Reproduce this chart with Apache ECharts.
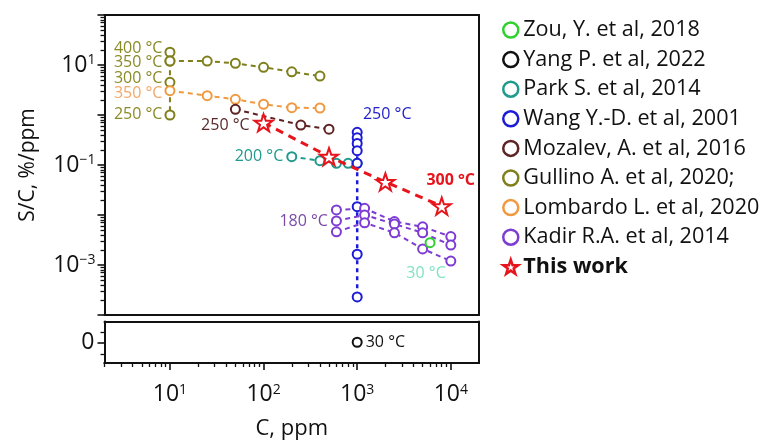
<!DOCTYPE html>
<html>
<head>
<meta charset="utf-8">
<script src="https://cdn.jsdelivr.net/npm/echarts@6/dist/echarts.min.js"></script>
<style>
html, body { margin: 0; padding: 0; background: #fff; }
#chart { width: 765px; height: 441px; }
</style>
</head>
<body>
<div id="chart"></div>
<script>
// C in ppm, S/C in %/ppm
const gullinoVertC = [10, 10, 10, 10]
const gullinoVertS = [18, 12, 4.5, 1.0]
const gullinoC = [10, 25, 50, 100, 200, 400]
const gullinoS = [12, 12, 10.8, 9.0, 7.3, 6.0]
const lombardoC = [10, 25, 50, 100, 200, 400]
const lombardoS = [3.06, 2.43, 2.06, 1.64, 1.40, 1.38]
const mozalevC = [50, 250, 500]
const mozalevS = [1.3, 0.63, 0.52]
const parkC = [200, 400, 600, 800, 1000]
const parkS = [0.147, 0.122, 0.108, 0.108, 0.108]
const wangC = [1000, 1000, 1000, 1000, 1000, 1000, 1000, 1000]
const wangS = [0.45, 0.35, 0.27, 0.193, 0.108, 0.0147, 0.00164, 0.00023]
const kadirC = [600, 1200, 2500, 5000, 10000]
const kadirS1 = [0.0126, 0.0136, 0.0074, 0.0058, 0.0037]
const kadirS2 = [0.0076, 0.0100, 0.0066, 0.0044, 0.0025]
const kadirS3 = [0.0046, 0.0070, 0.0044, 0.0021, 0.0012]
const zouC = [6000]
const zouS = [0.0028]
const yangC = [1000]
const yangS = [0]
const thisWorkC = [100, 500, 2000, 8000]
const thisWorkS = [0.70, 0.147, 0.046, 0.015]

// tick labels (decade exponents)
const xTickExp = [1, 2, 3, 4]
const yTickExp = [1, -1, -3]
const xRange = [2, 20000]
const yRange = [1e-4, 100]

const FONT = 'Open Sans'
const COLORS = {
	zou: '#2fd12f',
	yang: '#111111',
	park: '#1f9a8c',
	wang: '#1b1bd8',
	mozalev: '#5e2424',
	gullino: '#7f7f1c',
	lombardo: '#f09a40',
	kadir: '#7d3cd2',
	thisWork: '#e8141c',
}
const STAR = 'path://M50,0 L61.8,35.1 L98.1,35.1 L68.8,56.7 L79.4,91 L50,70 L20.6,91 L31.2,56.7 L1.9,35.1 L38.2,35.1 Z'

// minor ticks at 2..9 of each decade
function minorLog(from, to) {
	const out = []
	for (let n = from; n < to; n++) {
		for (let k = 2; k <= 9; k++) out.push(n + Math.log10(k))
	}
	return out
}
const lg = Math.log10

function makeData(xs, ys, labels, linearY) {
	return xs.map((x, i) => {
		const item = { value: [lg(x), linearY ? ys[i] : lg(ys[i])] }
		if (labels && labels[i]) {
			item.label = Object.assign({ show: true, fontFamily: FONT, fontSize: 16 }, labels[i])
		}
		return item
	})
}

function lineSeries(name, color, xs, ys, opt) {
	opt = opt || {}
	return {
		type: 'line',
		name,
		xAxisIndex: opt.xi || 0,
		yAxisIndex: opt.yi || 0,
		data: makeData(xs, ys, opt.labels, opt.yi === 1),
		symbol: opt.symbol || 'circle',
		symbolSize: opt.size || 9,
		symbolKeepAspect: true,
		itemStyle: { color: '#fff', borderColor: color, borderWidth: opt.bw || 2 },
		lineStyle: { color, width: opt.lw || 2, type: opt.dash || [5, 4] },
		label: { show: false },
		emphasis: { disabled: true },
		z: opt.z || 2,
	}
}

const supFmt = (e) => '{b|10}{s|' + (e < 0 ? '\u2212' + -e : e) + '}'
const labelRich = {
	b: { fontFamily: FONT, fontSize: 23, color: '#111', verticalAlign: 'bottom' },
	s: { fontFamily: FONT, fontSize: 14, color: '#111', verticalAlign: 'top' },
}

const series = [
	lineSeries('Gullino A. et al, 2020;', COLORS.gullino, gullinoVertC, gullinoVertS, {
		labels: [
			{ formatter: '400 °C', position: 'left', distance: 2, offset: [0, -4], color: '#8a8a28' },
			{ formatter: '350 °C', position: 'left', distance: 2, offset: [0, 1], color: '#8a8a28' },
			{ formatter: '300 °C', position: 'left', distance: 2, offset: [0, -4], color: '#8a8a28' },
			{ formatter: '250 °C', position: 'left', distance: 2, offset: [0, -1], color: '#8a8a28' },
		],
	}),
	lineSeries('Gullino A. et al, 2020;', COLORS.gullino, gullinoC, gullinoS),
	lineSeries('Lombardo L. et al, 2020', COLORS.lombardo, lombardoC, lombardoS, {
		labels: [{ formatter: '350 °C', position: 'left', distance: 2, offset: [0, 3], color: '#f2a86a' }],
	}),
	lineSeries('Mozalev, A. et al, 2016', COLORS.mozalev, mozalevC, mozalevS, {
		labels: [{ formatter: '250 °C', position: 'bottom', offset: [-10, -2], color: '#5a2a2a' }],
	}),
	lineSeries('Park S. et al, 2014', COLORS.park, parkC, parkS, {
		labels: [{ formatter: '200 °C', position: 'left', distance: 3, color: '#1f9a8c' }],
	}),
	lineSeries('Wang Y.-D. et al, 2001', COLORS.wang, wangC, wangS, {
		dash: [4, 4],
		lw: 2.5,
		labels: [{ formatter: '250 °C', position: 'top', offset: [30, 1], color: '#2222cc' }],
	}),
	lineSeries('Kadir R.A. et al, 2014', COLORS.kadir, kadirC, kadirS1),
	lineSeries('Kadir R.A. et al, 2014', COLORS.kadir, kadirC, kadirS2, {
		labels: [{ formatter: '180 °C', position: 'left', distance: 3, color: '#7a4aa8' }],
	}),
	lineSeries('Kadir R.A. et al, 2014', COLORS.kadir, kadirC, kadirS3),
	lineSeries('Zou, Y. et al, 2018', COLORS.zou, zouC, zouS, {
		labels: [{ formatter: '30 °C', position: 'bottom', offset: [-4, 12], color: '#7fe3c3' }],
	}),
	lineSeries('Yang P. et al, 2022', COLORS.yang, yangC, yangS, {
		xi: 1,
		yi: 1,
		labels: [{ formatter: '30 °C', position: 'right', distance: 3, color: '#111' }],
	}),
	lineSeries('This work', COLORS.thisWork, thisWorkC, thisWorkS, {
		symbol: STAR,
		size: 18,
		lw: 3,
		dash: [8, 6],
		z: 5,
		labels: [null, null, null, { formatter: '300 °C', position: 'top', offset: [9, -3], color: '#e8141c', fontWeight: 'bold' }],
	}),
]

const legendNames = [
	['Zou, Y. et al, 2018', COLORS.zou],
	['Yang P. et al, 2022', COLORS.yang],
	['Park S. et al, 2014', COLORS.park],
	['Wang Y.-D. et al, 2001', COLORS.wang],
	['Mozalev, A. et al, 2016', COLORS.mozalev],
	['Gullino A. et al, 2020;', COLORS.gullino],
	['Lombardo L. et al, 2020', COLORS.lombardo],
	['Kadir R.A. et al, 2014', COLORS.kadir],
	['This work', COLORS.thisWork],
]

// frame sides are drawn by axis lines
function frameAxis(gridIndex, position, min, max, extra) {
	return Object.assign({
		type: 'value',
		gridIndex,
		position,
		min,
		max,
		axisLine: { show: true, onZero: false, lineStyle: { color: '#111', width: 2 } },
		axisTick: { show: false },
		axisLabel: { show: false },
		splitLine: { show: false },
	}, extra || {})
}
const majorTick = (values) => ({ show: true, inside: false, length: 7, customValues: values, lineStyle: { color: '#111', width: 1.6 } })
const minorTick = (values) => ({ show: true, inside: false, length: 4, customValues: values, lineStyle: { color: '#111', width: 1.3 } })

// left-side ticks: split lines of a thin strip grid next to the frame
function tickStripY(gridIndex, min, max, values, width) {
	return {
		type: 'value',
		gridIndex,
		position: 'left',
		min,
		max,
		interval: 1,
		axisLine: { show: false, onZero: false },
		axisTick: { show: false, customValues: values },
		axisLabel: { show: false },
		splitLine: { show: true, lineStyle: { color: '#111', width } },
	}
}
const hiddenX = (gridIndex) => ({ type: 'value', gridIndex, min: 0, max: 1, show: false })

const X0 = lg(xRange[0])
const X1 = lg(xRange[1])
const Y0 = lg(yRange[0])
const Y1 = lg(yRange[1])
const LEFT = 104.5

const option = {
	animation: false,
	backgroundColor: '#fff',
	grid: [
		{ left: LEFT, top: 15, width: 374.5, height: 300, show: false },
		{ left: LEFT, top: 321.5, width: 374.5, height: 43, show: false },
		{ left: LEFT - 7, top: 15, width: 7, height: 300, show: false },
		{ left: LEFT - 4, top: 15, width: 4, height: 300, show: false },
		{ left: LEFT - 7, top: 321.5, width: 7, height: 43, show: false },
		{ left: LEFT - 4, top: 321.5, width: 4, height: 43, show: false },
	],
	xAxis: [
		frameAxis(0, 'bottom', X0, X1),
		frameAxis(1, 'bottom', X0, X1, {
			axisTick: majorTick(xTickExp),
			axisLabel: { customValues: xTickExp, margin: 20, formatter: supFmt, rich: labelRich },
			name: 'C, ppm',
			nameLocation: 'middle',
			nameGap: 55,
			nameTextStyle: { fontFamily: FONT, fontSize: 22, color: '#111' },
		}),
		frameAxis(1, 'bottom', X0, X1, { axisTick: minorTick(minorLog(0, 4)) }),
		frameAxis(0, 'top', X0, X1),
		frameAxis(1, 'top', X0, X1),
		hiddenX(2),
		hiddenX(3),
		hiddenX(4),
		hiddenX(5),
	],
	yAxis: [
		frameAxis(0, 'left', Y0, Y1, {
			axisLabel: { customValues: yTickExp, margin: 9, formatter: supFmt, rich: labelRich },
			name: 'S/C, %/ppm',
			nameLocation: 'middle',
			nameGap: 66,
			nameTextStyle: { fontFamily: FONT, fontSize: 21, color: '#111' },
		}),
		frameAxis(1, 'left', -1, 1, {
			axisLabel: { customValues: [0], margin: 10, fontFamily: FONT, fontSize: 23, color: '#111' },
		}),
		frameAxis(0, 'right', Y0, Y1),
		frameAxis(1, 'right', -1, 1),
		tickStripY(2, Y0, Y1, [-4, -3, -2, -1, 0, 1, 2], 1.6),
		tickStripY(3, Y0, Y1, minorLog(-4, 2), 1.3),
		tickStripY(4, -1, 1, [0], 1.6),
		tickStripY(5, -1, 1, [-0.5, 0.5], 1.3),
	],
	legend: {
		orient: 'vertical',
		left: 497,
		top: 13,
		itemWidth: 15,
		itemHeight: 15,
		itemGap: 5.6,
		selectedMode: false,
		textStyle: { fontFamily: FONT, fontSize: 21.6, color: '#111', lineHeight: 24 },
		data: legendNames.map(([name, color]) => ({
			name,
			icon: name === 'This work' ? STAR : 'circle',
			itemStyle: { color: '#fff', borderColor: color, borderWidth: 2.5 },
			textStyle: name === 'This work' ? { fontWeight: 'bold' } : {},
		})),
	},
	series,
}

const chart = echarts.init(document.getElementById('chart'))
chart.setOption(option)
</script>
</body>
</html>
